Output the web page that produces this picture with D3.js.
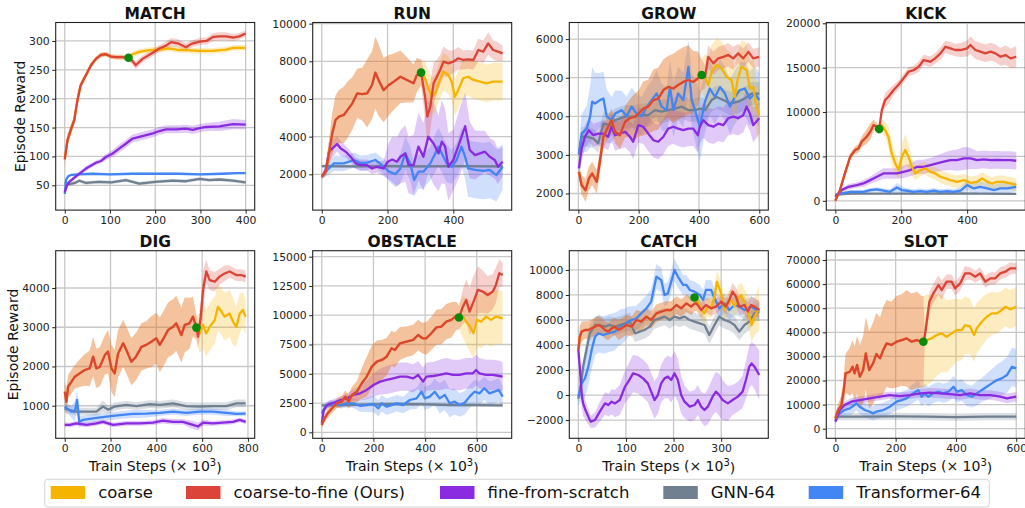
<!DOCTYPE html>
<html><head><meta charset="utf-8">
<script src="https://cdn.jsdelivr.net/npm/d3@7"></script>
<style>body{margin:0;background:#fff}svg{display:block;font-family:"DejaVu Sans",sans-serif}</style>
</head><body><svg id="c" width="1025" height="508"></svg>
<script>
// ---------------- DATA ----------------
const CATEGORIES = ["MATCH","RUN","GROW","KICK","DIG","OBSTACLE","CATCH","SLOT"];
const SERIES_NAMES = ["coarse","coarse-to-fine (Ours)","fine-from-scratch","GNN-64","Transformer-64"];
const COLORS = ["#F4B400","#DB4437","#8A2BE2","#708090","#4285F4"];
const X_TICKS = [[0,100,200,300,400],[0,200,400],[0,200,400,600],[0,200,400],[0,200,400,600,800],[0,200,400,600],[0,100,200,300],[0,200,400,600]];
const Y_TICKS = [[50,100,150,200,250,300],[2000,4000,6000,8000,10000],[2000,3000,4000,5000,6000],[0,5000,10000,15000,20000],[1000,2000,3000,4000],[0,2500,5000,7500,10000,12500,15000],[-2000,0,2000,4000,6000,8000,10000],[0,10000,20000,30000,40000,50000,60000,70000]];
const Y_LIMITS = [[7,332],[100,10060],[1570,6430],[-1050,20090],[170,4950],[-510,15510],[-3460,11540],[-3980,73860]];
// switch points [x, y] (green dots)
const SWITCH = [[141,271],[302,7400],[409,5070],[133,8080],[575,2990],[531,9800],[244,7800],[292,36100]];

// each point: [train step (x1e3), mean reward, band half-width]
const MATCH_C2F = [[0,95,12],[6,128,10],[13,145,9],[21,163,8],[28,197,7],[35,223,6],[47,241,5],[58,258,5],[69,269,4],[80,276,4],[91,277,4],[102,273,4],[113,272,4],[124,272,4],[141,271,4],[150,265,6],[157,258,7],[172,269,6],[191,278,6],[209,287,6],[224,292,7],[235,298,7],[250,296,7],[268,289,7],[280,295,6],[298,299,6],[313,300,6],[328,307,7],[342,308,7],[357,308,7],[372,306,6],[386,308,6],[400,313,5]];
const MATCH_COARSE_TAIL = [[141,271,4],[150,277,5],[165,281,5],[187,284,5],[209,285,5],[231,287,5],[253,284,5],[268,284,5],[298,283,5],[328,283,5],[357,285,5],[372,288,5],[400,288,5]];
const MATCH_FINE = [[0,38,3],[5,50,3],[10,56,3],[24,65,4],[47,79,4],[69,89,4],[80,92,4],[91,99,5],[106,105,6],[121,114,7],[135,122,7],[150,131,7],[165,134,7],[180,137,7],[195,140,7],[209,144,7],[224,147,7],[246,147,7],[268,148,7],[283,146,7],[298,149,7],[313,151,7],[342,152,8],[372,156,9],[400,155,8]];
const MATCH_GNN = [[0,55,3],[10,52,3],[22,54,3],[32,58,3],[47,54,3],[75,56,3],[103,55,3],[135,59,3],[165,53,3],[200,56,3],[239,58,3],[268,57,3],[298,61,3],[320,59,3],[342,60,3],[372,58,3],[400,55,3]];
const MATCH_TRANS = [[0,35,3],[3,60,3],[8,66,2],[15,68,2],[30,69,2],[60,70,2],[100,69,2],[150,70,2],[200,70,2],[250,70,2],[300,69,2],[350,70,2],[380,71,2],[400,71,2]];

const RUN_C2F = [[0,1870,100],[12,2140,200],[22,3110,700],[32,4175,1100],[42,4880,1300],[52,5060,1400],[67,5150,1500],[78,5410,1500],[93,5770,1400],[108,6300,1300],[123,6260,1400],[138,6300,1800],[153,6740,1800],[163,7400,1900],[173,7000,1900],[188,6470,1700],[204,6740,1600],[219,6920,1500],[239,7180,1400],[259,7010,1200],[279,6830,1000],[289,7270,900],[302,7400,700],[314,6120,1200],[321,5060,1500],[330,5590,1300],[340,6830,1100],[350,7180,900],[360,7540,800],[370,7980,800],[385,7890,700],[400,7980,600],[415,8160,600],[430,8070,500],[445,8100,500],[461,8070,500],[476,8600,600],[491,8510,600],[506,8950,600],[521,8600,500],[536,8510,500],[550,8420,400]];
const RUN_COARSE_TAIL = [[302,7400,700],[314,7100,900],[324,6560,1000],[335,6120,1000],[345,6300,1000],[355,6830,1000],[370,7450,1000],[385,7270,1000],[395,6920,1000],[405,6120,1000],[415,6480,1000],[430,7100,1000],[445,7180,1000],[461,7010,1000],[481,6920,1000],[501,6830,1000],[521,6920,1000],[550,6920,1000]];
const RUN_FINE = [[0,1870,100],[12,2230,300],[22,3200,500],[47,3610,400],[57,3380,400],[73,3200,300],[88,2930,300],[103,2580,300],[118,2490,300],[138,2490,300],[153,2310,300],[168,2400,300],[188,2310,400],[201,2670,900],[214,2790,1200],[229,2670,1300],[239,2930,1400],[254,3110,1500],[264,2490,1500],[279,2490,1600],[294,3470,1800],[309,2930,1800],[324,4000,1900],[340,3640,2200],[355,3110,2000],[365,3730,2200],[375,3470,2000],[385,2400,1800],[400,2760,1600],[420,3730,1800],[436,4560,1800],[450,3290,1500],[466,3020,1300],[481,3110,1200],[496,3200,1100],[511,2930,1000],[526,2760,1000],[536,2400,900],[550,2670,800]];
const RUN_GNN = [[0,2430,80],[100,2420,80],[200,2430,80],[300,2420,80],[400,2430,80],[550,2420,80]];
const RUN_TRANS = [[0,1870,100],[17,2230,300],[37,2580,400],[67,2580,400],[98,2760,400],[118,2600,400],[138,2620,400],[163,2760,400],[183,2490,400],[204,2140,500],[224,2010,700],[239,2310,800],[254,3110,900],[269,2580,900],[281,1700,900],[294,2140,900],[309,2140,900],[330,2580,900],[345,3110,1000],[355,3470,1000],[365,3110,1000],[380,2580,1000],[395,2400,900],[410,2760,900],[425,3470,1000],[436,2930,1200],[445,2310,1500],[466,2230,1500],[491,2180,1500],[511,2230,1500],[531,1960,1400],[550,2400,1200]];

const GROW_C2F = [[2,2560,200],[11,2215,250],[24,2085,300],[35,2390,300],[46,2520,300],[61,2300,300],[72,2860,300],[83,3470,300],[99,3730,300],[110,3900,300],[122,3600,300],[138,3510,350],[155,3860,400],[171,3950,500],[188,3990,600],[201,4080,600],[215,4200,700],[232,4250,700],[249,4420,800],[265,4460,800],[282,4680,800],[298,4760,800],[315,4720,900],[331,4810,900],[348,4890,900],[365,4940,900],[381,4890,800],[396,4980,700],[409,5070,400],[420,5020,300],[431,5540,300],[448,5370,300],[464,5500,300],[481,5540,300],[497,5590,300],[514,5500,300],[530,5630,250],[547,5500,250],[564,5670,250],[580,5500,250],[600,5540,250]];
const GROW_COARSE_TAIL = [[409,5070,400],[420,5020,600],[431,4800,700],[442,5150,700],[459,5330,700],[475,5240,700],[492,5020,700],[508,4940,700],[519,4500,700],[528,4940,700],[541,5280,700],[558,5200,700],[569,4720,700],[580,4760,700],[591,4250,700],[600,4030,700]];
const GROW_FINE = [[2,2650,200],[11,3170,300],[22,3470,300],[35,3640,300],[50,3510,300],[66,3550,300],[83,3550,350],[99,3470,350],[110,3730,350],[122,3510,400],[138,3550,400],[155,3600,400],[171,3470,400],[182,3340,450],[199,3770,450],[215,3730,450],[232,3550,450],[249,3380,450],[265,3340,450],[282,3470,450],[298,3680,450],[315,3730,450],[331,3680,450],[348,3640,450],[365,3680,450],[381,3680,450],[396,3510,450],[403,3730,450],[414,3900,450],[431,3770,450],[448,3730,450],[464,3810,450],[481,3770,450],[497,3950,450],[514,3990,450],[530,3950,450],[547,4030,450],[558,4250,450],[569,4070,450],[580,3770,450],[600,3950,400]];
const GROW_GNN = [[2,3000,200],[11,3470,250],[28,3470,250],[50,3420,250],[66,3300,250],[83,3810,300],[105,3770,300],[122,3900,300],[155,3990,300],[188,3990,300],[210,4030,300],[232,4030,300],[254,4160,300],[276,4120,300],[298,4160,300],[320,4200,300],[343,4250,300],[365,4160,300],[387,4160,300],[403,4200,300],[420,4160,300],[442,4420,300],[459,4500,300],[481,4420,300],[503,4330,300],[530,4380,300],[552,4460,300],[575,4590,300],[600,4590,300]];
const GROW_TRANS = [[2,3040,300],[11,3550,500],[28,3680,600],[39,3990,800],[46,4380,900],[55,4330,800],[72,4420,700],[83,4460,700],[94,4000,700],[110,3900,600],[122,4070,600],[144,4160,500],[160,4000,500],[177,4250,500],[193,4070,500],[210,4000,500],[227,4250,500],[243,4420,500],[260,4590,600],[276,4250,600],[293,4160,600],[304,4760,700],[315,4160,700],[331,4590,700],[348,4420,700],[365,5280,700],[376,4420,700],[387,4160,800],[403,3730,900],[420,4380,800],[436,4720,700],[453,4500,700],[470,4760,700],[486,4590,700],[503,4250,700],[519,4500,700],[536,4680,700],[552,4720,700],[569,4460,700],[586,4590,700],[600,4420,700]];

const KICK_C2F = [[0,0,100],[14,1200,200],[29,3080,300],[45,4960,400],[60,5710,400],[70,5900,500],[80,6650,600],[95,7220,800],[106,7780,900],[116,8530,600],[126,8340,400],[133,8080,300],[141,10220,500],[151,11350,800],[161,11720,800],[177,12480,600],[191,13040,500],[207,13790,500],[222,14540,500],[238,14730,500],[253,15110,600],[268,15860,600],[288,15670,600],[303,16050,600],[319,16610,700],[334,17360,700],[349,17170,700],[364,16990,700],[380,16990,800],[400,17170,900],[410,17550,1000],[425,16990,1000],[440,16800,1000],[455,16610,1000],[471,16800,1000],[486,16610,1000],[501,16230,1000],[516,16420,1100],[532,16050,1100],[549,16230,1200]];
const KICK_COARSE_TAIL = [[133,8080,300],[141,8530,600],[151,7970,900],[161,7220,1200],[171,5340,1300],[182,4210,1200],[192,3460,1000],[202,4960,1500],[212,5710,1800],[222,4960,1500],[232,3830,1000],[243,3080,800],[258,3460,700],[273,3650,700],[288,3270,700],[303,3080,700],[319,2710,700],[334,2520,700],[349,2330,700],[369,2140,700],[390,2330,700],[410,2030,700],[430,2140,700],[446,2520,700],[461,2140,700],[476,1950,700],[491,2140,700],[511,2140,700],[532,1950,700],[549,1770,700]];
const KICK_FINE = [[0,450,100],[19,1200,200],[40,1580,300],[65,1770,300],[85,1950,400],[106,2330,400],[126,2710,500],[146,3080,600],[166,3080,600],[187,3080,600],[207,3270,700],[227,3460,700],[248,3830,800],[268,3830,800],[288,4020,800],[308,4210,900],[329,4400,1000],[349,4580,1100],[369,4580,1200],[390,4770,1300],[410,4770,1200],[430,4580,1000],[450,4660,1000],[471,4580,1000],[491,4620,1000],[511,4580,1000],[532,4580,1000],[549,4510,1000]];
const KICK_GNN = [[0,700,100],[50,800,100],[150,800,100],[250,800,100],[350,820,100],[450,800,100],[549,780,100]];
const KICK_TRANS = [[0,640,200],[19,830,200],[45,1010,200],[65,1010,200],[85,1010,200],[106,1200,250],[126,1280,250],[146,1150,250],[166,1010,300],[187,1500,500],[202,1200,400],[217,1130,300],[238,1010,300],[258,1080,300],[278,1010,300],[298,1150,300],[319,1010,300],[339,1080,300],[359,1010,300],[380,1150,400],[400,1770,600],[420,1390,600],[440,1580,600],[461,1390,600],[481,1200,600],[501,1390,600],[522,1390,600],[549,1580,500]];

const DIG_C2F = [[0,1360,250],[7,1100,350],[15,1490,300],[29,1610,300],[44,1740,300],[65,1825,350],[87,1910,400],[109,1950,450],[124,2250,500],[138,1950,500],[153,1990,500],[175,2290,500],[189,2380,550],[204,1950,600],[218,1825,600],[233,2330,600],[255,2590,600],[269,2420,600],[291,2120,600],[311,2250,600],[335,2500,600],[356,2550,600],[378,2630,650],[400,2720,650],[415,2550,700],[436,2760,700],[451,2930,700],[473,3010,700],[487,3100,700],[509,2800,700],[524,3060,700],[545,3100,650],[560,3270,500],[575,2990,300],[582,2760,300],[594,3270,400],[604,3950,500],[618,4420,300],[633,4200,250],[655,4160,250],[676,4290,200],[698,4370,200],[720,4420,150],[749,4330,150],[771,4330,150],[790,4290,150]];
const DIG_COARSE_TAIL = [[575,2990,300],[589,2840,500],[604,3060,600],[618,2840,600],[633,3010,600],[655,3180,600],[669,3520,600],[684,3400,600],[698,3270,600],[720,3350,600],[735,3140,600],[749,3010,500],[764,3350,500],[778,3440,450],[790,3270,450]];
const DIG_FINE = [[0,510,60],[22,510,60],[51,550,60],[95,510,60],[138,550,60],[167,590,60],[211,510,60],[269,550,60],[327,550,60],[386,570,60],[429,620,70],[473,590,70],[516,590,70],[560,510,100],[582,470,100],[604,570,80],[647,550,60],[691,570,60],[735,590,60],[764,640,60],[790,590,60]];
const DIG_GNN = [[0,930,100],[22,890,100],[51,850,100],[95,850,100],[138,850,100],[167,980,150],[190,900,100],[218,980,100],[269,1020,100],[313,990,100],[371,1040,100],[415,1020,100],[473,1060,100],[531,990,100],[589,980,100],[647,990,100],[706,990,100],[749,1060,100],[790,1060,100]];
const DIG_TRANS = [[0,975,100],[29,850,150],[44,850,250],[54,1150,250],[63,590,150],[80,640,100],[124,680,100],[182,720,100],[240,760,100],[298,790,100],[356,800,100],[415,820,80],[473,850,80],[531,820,80],[589,850,80],[647,850,80],[706,820,80],[749,790,60],[790,800,60]];

const OBSTACLE_C2F = [[0,630,300],[8,1050,300],[21,1570,400],[40,2050,400],[59,2480,400],[78,2620,500],[91,3050,500],[104,2620,600],[117,3190,700],[136,3470,900],[155,4190,1300],[174,4760,1700],[194,5610,1800],[213,6040,1800],[232,6180,1700],[251,6460,1600],[270,7180,1500],[283,7030,1500],[303,7600,1400],[328,7740,1300],[354,7890,1300],[373,8310,1300],[390,8030,1300],[405,8030,1400],[424,8460,1400],[444,8970,1500],[463,9030,1500],[482,9450,1500],[501,9600,1500],[521,9940,1200],[531,9800,1000],[546,10730,1500],[559,11300,1800],[572,10310,2000],[585,11020,2200],[604,12160,2000],[623,12020,1800],[642,11730,1600],[662,12020,1500],[674,12590,1500],[687,13580,1200],[700,13440,1000]];
const OBSTACLE_COARSE_TAIL = [[531,9800,1000],[546,9880,1800],[559,9450,2000],[574,9030,2200],[587,8460,2200],[600,9600,2300],[617,9450,2300],[636,9880,2300],[655,9600,2300],[674,9880,2300],[700,9740,2300]];
const OBSTACLE_FINE = [[0,770,200],[8,1910,300],[21,2330,300],[46,2530,300],[72,2760,300],[97,2900,400],[123,3190,500],[149,3330,600],[174,3620,800],[200,4040,1000],[226,4330,1100],[251,4470,1200],[277,4610,1200],[303,4760,1200],[328,4760,1200],[354,4610,1200],[373,4900,1200],[392,4330,1200],[405,4760,1200],[431,4810,1200],[456,4900,1300],[482,5040,1300],[508,4900,1300],[533,4900,1300],[559,5040,1300],[585,5040,1300],[597,5320,1300],[610,5040,1300],[636,4900,1300],[662,4900,1300],[687,4810,1300],[700,4760,1200]];
const OBSTACLE_GNN = [[0,2300,150],[100,2330,150],[200,2380,150],[300,2420,150],[400,2380,150],[500,2330,150],[600,2330,150],[700,2300,150]];
const OBSTACLE_TRANS = [[0,1620,300],[14,2190,300],[33,2480,300],[53,2420,300],[72,2330,300],[97,2480,350],[123,2480,400],[149,2250,500],[174,2330,600],[200,2420,700],[219,2050,700],[232,2480,700],[251,2190,700],[270,2330,700],[290,2480,700],[315,2330,700],[341,2760,800],[367,2900,900],[386,3470,1000],[399,2900,1000],[418,3050,1000],[437,3470,1100],[456,2900,1300],[476,3190,1300],[495,2480,1200],[514,2620,1100],[533,2330,1000],[553,2530,1000],[572,3050,1000],[591,3470,1000],[610,3330,1000],[629,3760,1000],[649,3330,1000],[668,3470,1000],[685,3620,1000],[700,3050,900]];

const CATCH_C2F = [[0,3600,800],[3,4670,800],[7,5070,800],[14,5200,700],[21,5200,700],[28,5330,700],[35,5470,700],[42,5600,700],[49,5470,700],[56,5200,700],[63,5070,700],[70,5330,700],[77,5470,700],[84,5200,800],[91,5330,800],[101,5600,800],[112,5470,800],[122,6000,800],[132,5870,800],[143,6270,700],[153,6000,700],[164,6530,700],[174,6670,700],[185,6800,700],[195,6800,700],[206,7200,700],[216,6930,700],[227,7330,700],[237,7070,700],[244,7300,600],[248,7330,600],[258,6800,600],[268,7200,600],[279,6930,600],[289,7070,600],[300,7470,600],[310,7070,600],[317,7600,600],[324,8270,700],[331,7870,700],[338,7070,700],[349,7200,700],[356,6670,700],[363,7200,700],[370,7070,700],[380,6800,700]];
const CATCH_COARSE_TAIL = [[244,7300,600],[251,7470,800],[258,6800,800],[265,6530,800],[272,7070,800],[279,6930,800],[286,7870,800],[291,9070,900],[300,8130,900],[307,6800,900],[314,7330,900],[321,7600,900],[328,7070,900],[335,7730,1000],[342,8000,1000],[349,7330,1100],[356,6800,1200],[364,5600,1400],[370,6270,1500],[380,6930,1800]];
const CATCH_FINE = [[0,3600,500],[3,2270,800],[7,0,1000],[10,-670,1000],[15,-1200,800],[21,-1730,600],[26,-2130,500],[35,-2000,600],[45,-1330,800],[56,-670,900],[63,-800,900],[70,-530,1000],[77,-670,1100],[87,-400,1200],[98,670,1300],[105,1070,1400],[115,1730,1500],[126,1600,1500],[136,1330,1500],[146,930,1500],[153,270,1500],[160,-400,1500],[167,0,1500],[174,930,1500],[181,1330,1600],[188,1470,1700],[195,1200,1800],[202,1730,1800],[209,1200,1700],[216,0,1500],[223,-530,1300],[234,-930,1200],[244,-800,1200],[251,-400,1200],[258,-930,1200],[265,-1200,1300],[272,-930,1400],[282,-130,1500],[289,270,1600],[296,0,1700],[303,-400,1600],[314,-670,1400],[324,-400,1200],[335,-130,1200],[345,270,1300],[352,1200,1500],[359,2270,1700],[364,2530,1700],[370,2270,1800],[380,1600,2000]];
const CATCH_GNN = [[0,-300,300],[6,930,500],[10,2270,600],[17,3600,700],[24,4930,700],[35,5600,700],[45,5600,700],[56,5470,700],[66,5600,700],[77,5470,700],[87,5600,700],[98,5730,700],[108,5870,700],[119,4930,700],[129,5070,700],[139,5200,700],[150,5470,700],[160,6000,700],[171,6130,700],[181,6270,700],[192,6000,700],[202,6270,700],[213,6130,700],[223,6270,700],[234,6000,700],[244,5870,700],[255,5730,700],[265,5600,700],[275,4800,700],[286,5600,700],[296,6270,700],[307,6000,700],[317,5870,700],[328,5600,700],[338,5070,700],[349,5600,700],[359,5870,700],[370,6530,700],[380,6670,700]];
const CATCH_TRANS = [[0,-130,800],[7,930,1200],[14,1330,1500],[21,2270,1500],[28,3600,1500],[35,4670,1500],[42,4930,1500],[52,4800,1500],[63,4930,1500],[77,5070,1500],[84,5330,1400],[91,5470,1400],[98,5600,1300],[105,5870,1200],[112,6000,1100],[122,6130,1000],[132,6530,1000],[143,6930,1000],[153,7470,1000],[164,9470,1000],[174,9200,1000],[181,8000,900],[188,8130,900],[195,9070,900],[202,10000,900],[209,9470,900],[220,8800,800],[227,8800,800],[234,8400,800],[244,8270,800],[255,8000,800],[262,7600,800],[268,8400,800],[279,8400,800],[286,7730,800],[296,6930,800],[307,7330,800],[317,6800,800],[328,7200,800],[338,7070,800],[349,6800,800],[363,7070,800],[380,6670,800]];

const SLOT_C2F = [[0,4290,1500],[9,7750,2500],[20,9820,4000],[28,16040,6000],[34,22960,8000],[48,23650,10000],[57,25730,11000],[64,22960,11000],[72,26420,12000],[81,21580,13000],[92,24340,14000],[101,31260,15000],[112,24340,16000],[125,27110,17000],[136,30980,17000],[148,29180,17000],[159,32640,18000],[170,35410,18000],[186,34720,18000],[203,36100,19000],[220,36790,19000],[236,37480,20000],[253,36100,20000],[270,36790,20000],[286,36100,19000],[292,36100,19000],[296,38000,4000],[301,42320,4000],[312,52700,4000],[325,56150,4000],[342,59610,4000],[353,57540,4000],[369,61000,3000],[386,61000,3000],[397,58230,3000],[414,60300,3000],[430,64450,3000],[447,64450,2500],[464,63070,2500],[480,64450,2500],[497,61000,2500],[514,62380,2500],[530,62380,2500],[547,64450,2500],[564,65150,2500],[580,66530,2500],[600,66530,2000]];
const SLOT_COARSE_TAIL = [[292,36100,19000],[303,36790,19000],[319,37480,18000],[336,38870,17000],[353,39560,16000],[369,38170,15000],[386,39560,14000],[403,40940,13000],[419,40940,12500],[430,43010,12000],[447,42320,11500],[460,38870,11000],[469,41630,10500],[486,44400,10000],[502,46470,9500],[519,47860,9000],[536,47860,8500],[552,49240,8000],[564,50620,8000],[580,49520,8000],[600,50620,8000]];
const SLOT_FINE = [[0,2900,1000],[14,7750,1500],[31,9820,1500],[53,11200,1500],[81,11890,1500],[114,12590,1500],[148,13280,1500],[181,13970,1500],[214,13550,1500],[247,13970,1500],[281,14660,1800],[314,14940,2000],[347,14660,2000],[380,14380,2000],[414,13970,2000],[447,14660,2000],[480,13970,2000],[514,13970,2000],[547,13280,2000],[569,12590,2000],[600,13280,2000]];
const SLOT_GNN = [[0,5000,1500],[100,5000,1500],[200,5100,1500],[300,5000,1500],[400,4800,1500],[500,5000,1500],[600,4980,1500]];
const SLOT_TRANS = [[0,3600,1500],[14,6360,2000],[31,7750,2500],[48,8440,3000],[59,9400,3000],[70,10510,3000],[81,9130,3000],[98,7750,3000],[114,7050,3000],[125,6360,3000],[136,7050,3000],[159,7750,3000],[181,9130,3000],[203,11200,3500],[220,11890,3500],[236,12590,3500],[258,14660,4000],[275,16040,4000],[286,13280,4000],[297,14660,4000],[308,13280,4000],[325,14660,4000],[342,15350,4000],[358,14660,4000],[375,15350,4000],[392,17430,4500],[403,15350,4500],[419,16040,4500],[436,13970,4500],[453,13280,4500],[469,14660,5000],[486,16040,5000],[502,17430,5500],[519,18810,6000],[536,20190,6500],[552,20880,7000],[569,22270,7500],[586,25730,8000],[600,25030,8000]];

// ---------------- BUILD ----------------
const PANEL_DATA = [
  [MATCH_C2F, MATCH_COARSE_TAIL, MATCH_FINE, MATCH_GNN, MATCH_TRANS],
  [RUN_C2F, RUN_COARSE_TAIL, RUN_FINE, RUN_GNN, RUN_TRANS],
  [GROW_C2F, GROW_COARSE_TAIL, GROW_FINE, GROW_GNN, GROW_TRANS],
  [KICK_C2F, KICK_COARSE_TAIL, KICK_FINE, KICK_GNN, KICK_TRANS],
  [DIG_C2F, DIG_COARSE_TAIL, DIG_FINE, DIG_GNN, DIG_TRANS],
  [OBSTACLE_C2F, OBSTACLE_COARSE_TAIL, OBSTACLE_FINE, OBSTACLE_GNN, OBSTACLE_TRANS],
  [CATCH_C2F, CATCH_COARSE_TAIL, CATCH_FINE, CATCH_GNN, CATCH_TRANS],
  [SLOT_C2F, SLOT_COARSE_TAIL, SLOT_FINE, SLOT_GNN, SLOT_TRANS]
];

// layout
const COL_LEFT = [55.7, 312.7, 569.3, 826.3];
const ROW_TOP = [22.5, 250.7];
const PW = 199, PH = 187.6;
const TICK_FONT = 10.8;

const svg = d3.select("#c");
const fmt = d3.format("d");
const defs = svg.append("defs");

CATEGORIES.forEach((title, i) => {
  const col = i % 4, row = Math.floor(i / 4);
  const left = COL_LEFT[col], top = ROW_TOP[row];
  const [c2f, tail, fine, gnn, trans] = PANEL_DATA[i];
  const sw = SWITCH[i];
  const coarse = c2f.filter(d => d[0] < sw[0]).concat(tail);
  const xmax = d3.max([c2f, fine, gnn, trans].flat(), d => d[0]);
  const x = d3.scaleLinear().domain([-0.05 * xmax, 1.05 * xmax]).range([0, PW]);
  const y = d3.scaleLinear().domain(Y_LIMITS[i]).range([PH, 0]);

  const g = svg.append("g").attr("transform", `translate(${left},${top})`);
  const cid = "clip" + i;
  defs.append("clipPath").attr("id", cid).append("rect").attr("width", PW).attr("height", PH);

  // grid
  const grid = g.append("g");
  grid.selectAll("line.gx").data(X_TICKS[i]).join("line")
    .attr("x1", d => x(d)).attr("x2", d => x(d)).attr("y1", 0).attr("y2", PH)
    .attr("stroke", "#c8c8c8").attr("stroke-width", 1.3);
  grid.selectAll("line.gy").data(Y_TICKS[i]).join("line")
    .attr("y1", d => y(d)).attr("y2", d => y(d)).attr("x1", 0).attr("x2", PW)
    .attr("stroke", "#c8c8c8").attr("stroke-width", 1.3);

  const plot = g.append("g").attr("clip-path", `url(#${cid})`);
  // order: GNN, Transformer, fine, coarse, coarse-to-fine
  const order = [
    {d: gnn, c: COLORS[3]}, {d: trans, c: COLORS[4]}, {d: fine, c: COLORS[2]},
    {d: coarse, c: COLORS[0]}, {d: c2f, c: COLORS[1]}
  ];
  const area = d3.area().x(d => x(d[0])).y0(d => y(d[1] - d[2])).y1(d => y(d[1] + d[2]));
  const line = d3.line().x(d => x(d[0])).y(d => y(d[1]));
  order.forEach(s => {
    plot.append("path").attr("d", area(s.d)).attr("fill", s.c).attr("fill-opacity", 0.25);
  });
  order.forEach(s => {
    plot.append("path").attr("d", line(s.d)).attr("fill", "none").attr("stroke", s.c)
      .attr("stroke-width", 2.3).attr("stroke-linejoin", "round");
  });
  plot.append("circle").attr("cx", x(sw[0])).attr("cy", y(sw[1])).attr("r", 4.3).attr("fill", "#0a8a0a");

  // axes
  const xa = g.append("g").attr("transform", `translate(0,${PH})`)
    .call(d3.axisBottom(x).tickValues(X_TICKS[i]).tickFormat(fmt).tickSize(3.5).tickPadding(2.5));
  const ya = g.append("g")
    .call(d3.axisLeft(y).tickValues(Y_TICKS[i]).tickFormat(fmt).tickSize(3.5).tickPadding(2.5));
  [xa, ya].forEach(a => {
    a.select(".domain").remove();
    a.selectAll("line").attr("stroke", "#222").attr("stroke-width", 1);
    a.selectAll("text").attr("fill", "#222").style("font-size", TICK_FONT + "px").style("font-family", "DejaVu Sans");
  });
  g.append("rect").attr("width", PW).attr("height", PH).attr("fill", "none").attr("stroke", "#222").attr("stroke-width", 1.1);

  // title
  g.append("text").attr("x", PW / 2).attr("y", -4).attr("text-anchor", "middle")
    .style("font-size", "15.5px").style("font-weight", "bold").attr("fill", "#111").text(title);

  if (col === 0) {
    const lx = row === 0 ? -35.7 : -43;
    g.append("text").attr("transform", `translate(${lx},${PH / 2}) rotate(-90)`)
      .attr("text-anchor", "middle").attr("dy", "0.36em").style("font-size", "14px").attr("fill", "#111")
      .text("Episode Reward");
  }
  if (row === 1) {
    const t = g.append("text").attr("x", PW / 2).attr("y", PH + 32.5).attr("text-anchor", "middle")
      .style("font-size", "14px").attr("fill", "#111");
    t.append("tspan").text("Train Steps (× 10");
    t.append("tspan").attr("dy", "-0.45em").style("font-size", "10px").text("3");
    t.append("tspan").attr("dy", "0.45em").text(")");
  }
});

// legend
const LEG_PATCH_X = [50.7, 186, 440, 663.3, 808.7];
const leg = svg.append("g");
leg.append("rect").attr("x", 44.7).attr("y", 479.3).attr("width", 944.6).attr("height", 27.7)
  .attr("rx", 3).attr("fill", "#fff").attr("stroke", "#d4d4d4").attr("stroke-width", 1);
SERIES_NAMES.forEach((n, k) => {
  leg.append("rect").attr("x", LEG_PATCH_X[k]).attr("y", 486).attr("width", 34.5).attr("height", 13).attr("fill", COLORS[k]);
  leg.append("text").attr("x", LEG_PATCH_X[k] + 47.5).attr("y", 498.3).style("font-size", "16.5px").attr("fill", "#111").text(n);
});
</script></body></html>
